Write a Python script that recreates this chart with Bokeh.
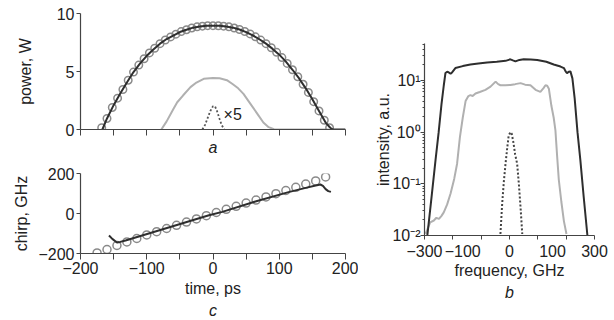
from bokeh.plotting import figure
from bokeh.layouts import row, column
from bokeh.models import Range1d, FixedTicker, CustomJSTickFormatter, Title, Label
from bokeh.embed import file_html
from bokeh.resources import INLINE

FONT = "Liberation Sans"
FS = "16px"

# ---- panel a: power vs time ----
t_pow_circ = [-168, -160, -152, -144, -136, -128, -120, -112, -104, -96, -88, -80, -72, -64, -56, -48,
              -40, -32, -24, -16, -8, 0, 8, 16, 24, 32, 40, 48, 56, 64, 72, 80, 88, 96, 104, 112,
              120, 128, 136, 144, 152, 160, 168, 176]
p_pow_circ = [0.15, 0.95, 1.9, 2.7, 3.45, 4.25, 4.95, 5.55, 6.1, 6.6, 7.0, 7.4, 7.72, 7.98, 8.22, 8.44,
              8.6, 8.75, 8.85, 8.91, 8.95, 8.95, 8.94, 8.91, 8.85, 8.75, 8.62, 8.45, 8.24, 7.99, 7.71, 7.4,
              7.05, 6.65, 6.2, 5.7, 5.15, 4.55, 3.9, 3.2, 2.4, 1.6, 0.8, 0.15]
t_pow_line = [-167, -160, -150, -140, -130, -120, -110, -100, -90, -80, -70, -60, -50, -40, -30, -20, -10,
              0, 10, 20, 30, 40, 50, 60, 70, 80, 90, 100, 110, 120, 130, 140, 150, 160, 170, 177, 181, 200]
p_pow_line = [0, 0.95, 2.1, 3.1, 4.05, 4.95, 5.7, 6.35, 6.9, 7.4, 7.8, 8.1, 8.4, 8.6, 8.78, 8.88, 8.94,
              8.95, 8.94, 8.88, 8.78, 8.62, 8.4, 8.12, 7.78, 7.4, 6.95, 6.45, 5.85, 5.15, 4.4, 3.55, 2.6,
              1.6, 0.6, 0.15, 0.0, 0.0]
t_pow_gray = [-78, -70, -60, -54, -45, -34, -25, -14, 0, 10, 21, 30, 38, 46, 56, 67, 76, 84, 92, 100, 130, 175]
p_pow_gray = [0, 0.7, 1.75, 2.35, 2.95, 3.65, 4.05, 4.37, 4.45, 4.42, 4.25, 3.9, 3.55, 3.07, 2.25, 1.35,
              0.6, 0.2, 0.03, 0, 0, 0]
t_pow_dot = [-16, -12, -8, -4, 0, 3, 6, 10, 13, 17]
p_pow_dot = [0, 0.4, 1.0, 1.6, 2.0, 2.0, 1.6, 0.9, 0.4, 0]
time_ticks = [-200, -150, -100, -50, 0, 50, 100, 150, 200]
time_labels = {-200: "\u2212200", -150: "", -100: "\u2212100", -50: "", 0: "0", 50: "", 100: "100",
               150: "", 200: "200"}

# ---- panel c: chirp vs time ----
t_chirp_circ = [-175, -160, -145, -130, -115, -100, -85, -70, -55, -40, -25, -10, 5, 20, 35, 50, 65,
                80, 95, 110, 125, 140, 155, 170]
c_chirp_circ = [-197, -180, -160, -142, -125, -107, -91, -75, -59, -43, -27, -11, 5, 21, 36, 52, 67,
                83, 99, 115, 131, 147, 163, 183]
t_chirp_line = [-157, -152, -145, -140, -132, -107, -82, -57, -31, -6, 14, 64, 114, 140, 155, 162, 166,
                170, 174, 178]
c_chirp_line = [-110, -127, -145, -142, -135, -110, -85, -60, -34, -9, 8, 60, 107, 128, 140, 145, 138,
                122, 112, 108]
chirp_ticks = [-200, 0, 200]
chirp_labels = {-200: "\u2212200", 0: "0", 200: "200"}

# ---- panel b: spectra ----
f_black = [-290, -276, -261, -250, -240, -232, -226, -220, -214, -208, -202, -191, -165, -138, -110,
           -79, -45, -14, 3, 12, 21, 35, 50, 75, 98, 130, 156, 180, 192, 198, 203, 209, 215, 222, 230,
           240, 250, 262, 275]
i_black = [0.01, 0.05, 0.29, 1.0, 3.5, 8.0, 14.0, 14.8, 14.3, 13.5, 14.5, 17.4, 19.0, 20.4, 21.4, 22.4,
           23.0, 24.0, 25.7, 24.5, 23.4, 25.0, 25.7, 25.5, 25.0, 23.0, 20.4, 18.6, 17.4, 15.0, 13.8, 14.8,
           15.0, 11.0, 4.5, 1.0, 0.29, 0.055, 0.01]
f_gray = [-296, -280, -267, -258, -249, -240, -232, -220, -208, -195, -185, -179, -175, -165, -155, -145,
          -138, -130, -120, -105, -85, -67, -49, -40, -32, -15, 3, 20, 39, 55, 74, 92, 109, 120, 127, 133,
          139, 148, 156, 162, 168, 174, 183, 192, 201]
i_gray = [0.0107, 0.018, 0.0195, 0.022, 0.021, 0.024, 0.028, 0.04, 0.065, 0.126, 0.245, 0.5, 0.8, 1.9,
          4.0, 5.0, 5.2, 5.0, 5.6, 6.0, 6.6, 7.6, 9.5, 8.5, 8.1, 8.1, 8.2, 8.5, 8.9, 8.3, 8.1, 6.6, 6.0,
          7.1, 8.1, 7.9, 6.9, 3.2, 1.9, 1.1, 0.35, 0.12, 0.045, 0.019, 0.0107]
f_dot = [-32, -26, -20, -14, -8, -3, 3, 8, 14, 20, 27, 33, 39, 45]
i_dot = [0.0107, 0.04, 0.11, 0.245, 0.5, 0.85, 1.0, 0.93, 0.62, 0.37, 0.245, 0.1, 0.035, 0.0107]
freq_minor = [-300, -200, -100, 0, 100, 200, 300]
freq_label_pos = [-300, -165, 0, 152, 300]
freq_labels = {-300: "\u2212300", -165: "\u2212100", 0: "0", 152: "100", 300: "300"}

AX = "#444444"
TXT = "#222222"


def style(p):
    p.outline_line_color = None
    p.xgrid.grid_line_color = None
    p.ygrid.grid_line_color = None
    p.background_fill_color = "white"
    p.border_fill_color = "white"
    for ax in p.axis:
        ax.axis_line_color = AX
        ax.axis_line_width = 1.2
        ax.major_tick_line_color = AX
        ax.minor_tick_line_color = AX
        ax.major_tick_in = 0
        ax.minor_tick_in = 0
        ax.minor_tick_out = 0
        ax.major_label_text_font = FONT
        ax.major_label_text_font_size = FS
        ax.major_label_text_color = TXT
        ax.axis_label_text_font = FONT
        ax.axis_label_text_font_size = FS
        ax.axis_label_text_font_style = "normal"
        ax.axis_label_text_color = TXT


def panel_title(p, txt, standoff):
    p.add_layout(Title(text=txt, align="center", text_font_style="italic", text_font_size=FS,
                       text_font=FONT, text_color=TXT, standoff=standoff), "below")


# panel a
p1 = figure(width=358, height=163, x_range=Range1d(-200, 200), y_range=Range1d(0, 10),
            output_backend="svg", toolbar_location=None, min_border_left=80, min_border_right=13,
            min_border_top=13, min_border_bottom=34)
style(p1)
p1.xaxis.ticker = FixedTicker(ticks=[], minor_ticks=time_ticks)
p1.xaxis.minor_tick_out = 6
p1.xaxis.major_label_standoff = 0
p1.yaxis.ticker = FixedTicker(ticks=[0, 5, 10])
p1.yaxis.major_tick_out = 4
p1.yaxis.major_label_standoff = 2
p1.yaxis.axis_label = "power, W"
p1.yaxis.axis_label_standoff = 20
p1.line(t_pow_gray, p_pow_gray, line_color="#b0b0b0", line_width=2)
p1.line(t_pow_dot, p_pow_dot, line_color="#555555", line_width=1.8, line_dash="2 2")
p1.scatter(t_pow_circ, p_pow_circ, marker="circle", size=7.5, fill_color=None, line_color="#8a8a8a",
           line_width=1.5)
p1.line(t_pow_line, p_pow_line, line_color="#2e2e2e", line_width=2)
p1.add_layout(Label(x=16, y=1.3, text="\u00d75", text_font=FONT, text_font_size=FS, text_color=TXT,
                    text_baseline="middle", text_align="left"))
panel_title(p1, "a", 3)

# panel c
p2 = figure(width=358, height=157, x_range=Range1d(-200, 200), y_range=Range1d(-200, 200),
            output_backend="svg", toolbar_location=None, min_border_left=80, min_border_right=13,
            min_border_top=10, min_border_bottom=67)
style(p2)
p2.xaxis.ticker = FixedTicker(ticks=time_ticks)
p2.xaxis.major_label_overrides = time_labels
p2.xaxis.major_tick_out = 6
p2.xaxis.major_label_standoff = 2
p2.xaxis.axis_label = "time, ps"
p2.xaxis.axis_label_standoff = 3
p2.yaxis.ticker = FixedTicker(ticks=chirp_ticks)
p2.yaxis.major_label_overrides = chirp_labels
p2.yaxis.major_tick_out = 4
p2.yaxis.major_label_standoff = 2
p2.yaxis.axis_label = "chirp, GHz"
p2.yaxis.axis_label_standoff = 5
p2.scatter(t_chirp_circ, c_chirp_circ, marker="circle", size=8, fill_color=None, line_color="#8a8a8a",
           line_width=1.5)
p2.line(t_chirp_line, c_chirp_line, line_color="#2e2e2e", line_width=2)
panel_title(p2, "c", 0)

# panel b
p3 = figure(width=256, height=320, x_range=Range1d(-300, 300), y_range=Range1d(0.01, 52),
            y_axis_type="log", output_backend="svg", toolbar_location=None, min_border_left=66,
            min_border_right=20, min_border_top=43, min_border_bottom=85)
style(p3)
p3.xaxis.ticker = FixedTicker(ticks=freq_label_pos, minor_ticks=freq_minor)
p3.xaxis.major_label_overrides = freq_labels
p3.xaxis.major_tick_out = 0
p3.xaxis.minor_tick_out = 4
p3.xaxis.major_label_standoff = 5
p3.xaxis.axis_label = "frequency, GHz"
p3.xaxis.axis_label_standoff = 2
p3.yaxis.major_tick_out = 4
p3.yaxis.minor_tick_out = 2
p3.yaxis.major_label_standoff = 0
p3.yaxis.formatter = CustomJSTickFormatter(code="""
const e = Math.round(Math.log10(tick));
const m = {"-2": "\u207b\u00b2", "-1": "\u207b\u00b9", "0": "\u2070", "1": "\u00b9"};
return "10" + (m[String(e)] || String(e));
""")
p3.yaxis.axis_label = "intensity, a.u."
p3.yaxis.axis_label_standoff = -3
p3.line(f_gray, i_gray, line_color="#b0b0b0", line_width=2)
p3.line(f_black, i_black, line_color="#2e2e2e", line_width=2)
p3.line(f_dot, i_dot, line_color="#444444", line_width=2, line_dash="2 2")
panel_title(p3, "b", 0)

layout = row(column(p1, p2), p3)
open("out.html", "w").write(file_html(layout, INLINE))
